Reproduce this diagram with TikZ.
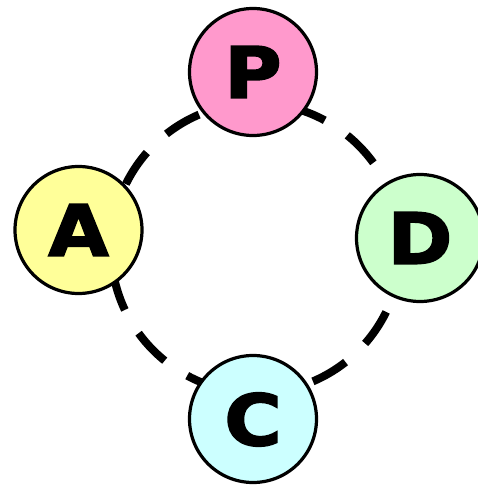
\documentclass[tikz,border=0pt]{standalone}
\usepackage{fontspec}
\newfontfamily\lettfont{DejaVu Sans Bold}[FakeBold=2.2]
\newcommand{\wideletter}[1]{\scalebox{1.1}[1]{#1}}
\begin{document}
\begin{tikzpicture}[x=1pt,y=1pt,
  stage/.style={circle, draw=black, line width=3.2pt, minimum size=127pt,
    inner sep=0pt, text depth=0pt,
    font=\lettfont\fontsize{71}{71}\selectfont},
  ring/.style={line width=8pt, dash pattern=on 38pt off 27.08pt}]
\useasboundingbox (0,0) rectangle (477,485);
\coordinate (o) at (256,237);
% dashed cycle behind the four stages
\draw[ring] (o) ++(10.26:145) arc[start angle=10.26, end angle=370.26, radius=145];
\node[stage, fill={rgb,255:red,255;green,153;blue,204}] (p) at (253,413) {\wideletter{P}};
\node[stage, fill={rgb,255:red,255;green,255;blue,153}] (a) at (78.5,255) {\wideletter{A}};
\node[stage, fill={rgb,255:red,204;green,255;blue,204}] (d) at (420,247) {\wideletter{D}};
\node[stage, fill={rgb,255:red,204;green,255;blue,255}] (c) at (253,66) {\wideletter{C}};
\end{tikzpicture}
\end{document}
